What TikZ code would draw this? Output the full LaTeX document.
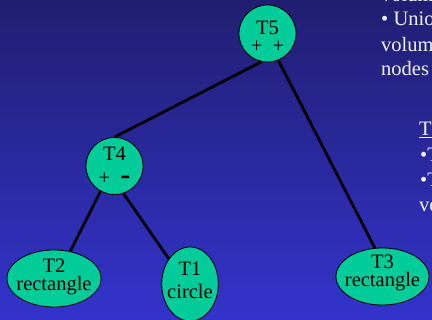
\documentclass[tikz,border=0pt]{standalone}
\usepackage{fontspec}
\setmainfont{Liberation Serif}
\usepackage{xcolor}
\definecolor{nodegreen}{RGB}{0,204,153}
\definecolor{bgtop}{RGB}{32,30,112}
\definecolor{bgbottom}{RGB}{51,51,204}
\definecolor{notewhite}{RGB}{240,240,248}
\usepackage{tikz}
\usetikzlibrary{shapes.geometric}
\tikzstyle{tree} = [
    draw=black, line width=0.8pt, fill=nodegreen, inner sep=0pt,
    align=center, font=\fontsize{20.5}{18}\selectfont,
]
\tikzstyle{setop} = [tree, circle, minimum size=57pt]
\tikzstyle{prim} = [tree, ellipse, inner xsep=-5pt, inner ysep=-3pt]
\tikzstyle{edge} = [line width=2.8pt]
\tikzstyle{note} = [
    anchor=base west, inner sep=0pt, text=notewhite,
    font=\fontsize{20.5}{24}\selectfont,
]

\begin{document}
\begin{tikzpicture}[x=1pt,y=-1pt]
    \useasboundingbox (0,0) rectangle (432,320);
    \clip (0,0) rectangle (432,320);
    \shade[top color=bgtop, bottom color=bgbottom] (0,0) rectangle (432,320);

    % CSG tree
    \node (t5) at (267.5, 33.5) [setop] {\rule{0pt}{19.3pt}T5\\+\ \ +};
    \node (t4) at (114.5, 166) [setop]
        {T4\\[6pt]+\ \ {\fontsize{30}{18}\selectfont\textbf{-}}};
    \node (t2) at (54, 278.5) [prim, minimum width=94pt, minimum height=57pt]
        {T2\\rectangle\rule[-7.2pt]{0pt}{7.2pt}};
    \node (t1) at (190, 284) [prim, inner xsep=-3pt, minimum width=56.5pt, minimum height=74pt]
        {T1\\[4.3pt]circle\rule[-7.6pt]{0pt}{7.6pt}};
    \node (t3) at (382.5, 276.5) [prim, minimum width=93pt, minimum height=57pt]
        {T3\\rectangle\rule[-12pt]{0pt}{12pt}};

    \draw[edge] (t5.258) -- (t4.north);
    \draw[edge] (t5.292) -- (t3.105);
    \draw[edge] (t4.241) -- (t2.59);
    \draw[edge] (t4.288) -- (t1.130);

    % notes on the right
    \node (vol0) at (381, 2) [note] {volum};
    \node (union) at (381, 26) [note] {• Unio};
    \node (vol1) at (381, 52) [note] {volum};
    \node (nodes) at (381, 76) [note] {nodes};
    \node (title) at (419, 136) [note] {\underline{Th}};
    \node (item1) at (420, 162) [note] {•T};
    \node (item2) at (420, 187) [note] {•T};
    \node (item3) at (419, 212) [note] {ve};

\end{tikzpicture}
\end{document}
